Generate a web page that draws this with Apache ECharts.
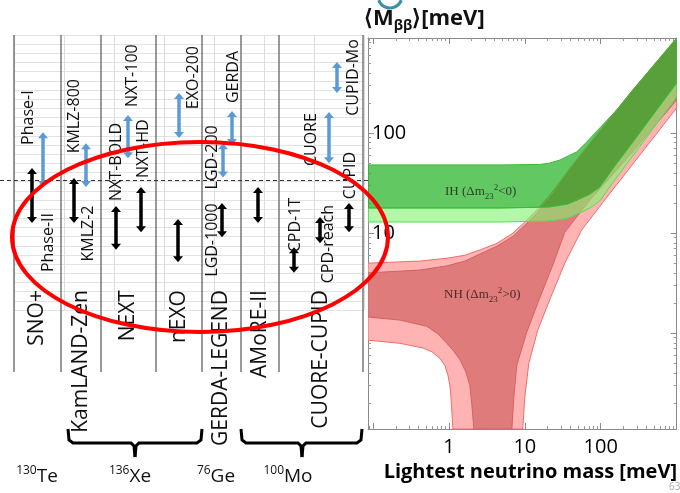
<!DOCTYPE html>
<html>
<head>
<meta charset="utf-8">
<script src="https://cdn.jsdelivr.net/npm/echarts@6/dist/echarts.min.js"></script>
<style>
  html, body { margin: 0; padding: 0; background: #fff; }
  #chart { width: 680px; height: 493px; }
</style>
</head>
<body>
<div id="chart"></div>
<script>
  // ---- left strip: experiments and their sensitivity ranges (meV) ----
  const groupNames = ["SNO+", "KamLAND-Zen", "NEXT", "nEXO", "GERDA-LEGEND", "AMoRE-II", "CUORE-CUPID"];
  const groupEdges = [14, 61, 101, 156, 202, 241, 279, 363]; // along the strip
  const isotopes = [["130", "Te"], ["136", "Xe"], ["76", "Ge"], ["100", "Mo"]];

  const barNames = ["Phase-II", "Phase-I", "KMLZ-2", "KMLZ-800", "NXT-BOLD", "NXT-100", "NXT-HD",
    "EXO-200", "nEXO", "LGD-200", "LGD-1000", "GERDA", "AMoRE-II", "CPD-1T", "CPD-reach",
    "CUORE", "CUPID-Mo", "CUPID"];
  const barPos = [32, 43, 74, 86, 116, 128, 141, 179, 178, 223, 222, 232, 258, 294, 320, 329, 337, 349];
  const barLow = [12.6, 28.8, 12.6, 28.8, 6.8, 56, 10.2, 89, 5.1, 36, 9.1, 76, 12.6, 4.0, 7.9, 50, 251, 10.2];
  const barHigh = [44.7, 102, 35.5, 79, 18.6, 151, 28.8, 251, 13.8, 79, 20, 166, 28.8, 7.2, 14.5, 162, 513, 20];
  const barStage = ["next", "now", "next", "now", "next", "now", "next", "now", "next", "now", "next",
    "now", "next", "next", "next", "now", "now", "next"];
  const refLine = 34;

  // ---- right plot: m_bb bands vs lightest neutrino mass (meV, meV) ----
  const ihTop = [[0.086, 48], [4.7, 48], [15.7, 48.5], [21, 50], [29, 53.7], [39, 60], [48, 64.6], [65, 81],
    [97, 112], [162, 170], [264, 269], [1000, 890]];
  const ihMid = [[0.086, 17.8], [4.7, 17.8], [21, 18.2], [37, 19.5], [56, 22.4], [72, 24.5], [97, 28.8],
    [153, 46.8], [264, 81], [1000, 316]];
  const ihLow = [[0.086, 12.9], [4.7, 12.9], [21, 13.2], [37, 14.1], [56, 16.2], [72, 17.8], [97, 20.9],
    [153, 33.9], [264, 59], [1000, 229]];

  const nhTop = [[0.086, 5.0], [0.415, 5.25], [0.94, 5.6], [1.62, 6.0], [2.6, 6.8], [4.3, 7.9], [7, 10],
    [10, 12.9], [14.4, 17], [24.8, 27.5], [39, 44], [97, 105], [264, 269], [1000, 891]];
  const nhTopIn = [[0.086, 4.0], [0.415, 4.27], [0.94, 4.7], [1.62, 5.25], [2.6, 6.2], [4.3, 7.4], [7, 9.3],
    [10, 12], [14.4, 15.8], [24.8, 25.7], [39, 41.7], [97, 100], [264, 257], [1000, 850]];
  const nhOuterRight = [[9.4, 0.11], [10, 0.229], [11.3, 0.5], [14.8, 1.07], [22, 2.29], [33.6, 5.0],
    [56, 10.7], [113, 21.4], [326, 60], [1000, 178]];
  const nhOuterLeft = [[0.086, 0.85], [0.227, 0.79], [0.455, 0.71], [0.6, 0.65], [0.76, 0.56], [0.89, 0.47],
    [0.97, 0.38], [1.03, 0.30], [1.06, 0.24], [1.13, 0.11]];
  const nhInnerRight = [[6.75, 0.11], [7.2, 0.24], [7.85, 0.48], [10.6, 1.02], [15.7, 2.24], [23.4, 4.8],
    [33.6, 10.2], [72, 21.4], [241, 60], [1000, 214]];
  const nhInnerLeft = [[0.086, 1.45], [0.227, 1.35], [0.51, 1.17], [0.72, 0.98], [0.94, 0.79], [1.16, 0.66],
    [1.4, 0.54], [1.67, 0.41], [1.89, 0.3], [2.01, 0.19], [2.13, 0.11]];

  const xTickLabels = [1, 10, 100];
  const yTickLabels = [10, 100];

  // ---- layout ----
  const FONT = "'Open Sans', 'Noto Sans', sans-serif";
  // label centre offset from bar centre, px
  const labelShift = [[16, 47], [-15, -42], [14, 33], [-12, -49], [0, -66], [4, -61], [2, -61],
    [14, -38], null, [-11, -3], [-10, 20], [1, -51], null, [1, -35], [8, 14], [-18, 2], [16, 0], [1, -42]];
  const groupLabelLevel = 0.243;

  const chart = echarts.init(document.getElementById("chart"));

  function band(pts, fill, stroke) {
    return {
      type: "custom",
      xAxisIndex: 3,
      yAxisIndex: 3,
      clip: true,
      silent: true,
      data: pts,
      renderItem: (params, api) => {
        if (params.dataIndex !== 0) return null;
        return {
          type: "polygon",
          shape: { points: pts.map((p) => api.coord(p)) },
          style: { fill: fill, stroke: stroke, lineWidth: 1 },
        };
      },
    };
  }

  const nhOuter = nhTop.concat(nhOuterRight.slice().reverse(), nhOuterLeft.slice().reverse());
  const nhInner = nhTopIn.concat(nhInnerRight.slice().reverse(), nhInnerLeft.slice().reverse());
  const ihDark = ihTop.concat(ihMid.slice().reverse());
  const ihLight = ihMid.concat(ihLow.slice().reverse());

  const logAxisBase = {
    type: "log",
    logBase: 10,
    axisLine: { lineStyle: { color: "#8a8a8a" } },
    axisTick: { inside: true, length: 6, lineStyle: { color: "#8a8a8a" } },
    minorTick: { show: true, splitNumber: 9, length: 3, lineStyle: { color: "#9a9a9a" } },
    splitLine: { show: false },
  };

  const option = {
    animation: false,
    grid: [
      { left: 14, top: 35, width: 350, height: 275 },
      { left: 0, top: 35, width: 370, height: 337 },
      { left: 0, top: 38, width: 370, height: 391 },
      { left: 368, top: 38, right: 3, bottom: 64 },
    ],
    xAxis: [
      {
        gridIndex: 0, type: "value", min: 0, max: 350, interval: 50,
        axisLine: { show: false }, axisTick: { show: false }, axisLabel: { show: false },
        splitLine: { lineStyle: { color: "#dcdcdc" } },
      },
      { gridIndex: 1, type: "value", min: 0, max: 370, show: false },
      { gridIndex: 2, type: "value", min: 0, max: 370, show: false },
      Object.assign({}, logAxisBase, {
        gridIndex: 3, min: 0.086, max: 1000, position: "bottom",
        axisLabel: {
          margin: 8, fontSize: 20, color: "#000", fontFamily: FONT,
          formatter: (v) => (xTickLabels.includes(Math.round(v * 1000) / 1000) ? String(Math.round(v)) : ""),
        },
        name: "Lightest neutrino mass [meV]",
        nameLocation: "middle",
        nameGap: 27,
        nameTextStyle: { fontSize: 20, fontWeight: "bold", color: "#000", fontFamily: FONT, padding: [0, 0, 0, 16] },
      }),
      Object.assign({}, logAxisBase, {
        gridIndex: 3, min: 0.086, max: 1000, position: "top", axisLabel: { show: false },
      }),
    ],
    yAxis: [
      {
        gridIndex: 0, type: "value", min: 0, max: 30, interval: 1,
        axisLine: { show: false }, axisTick: { show: false }, axisLabel: { show: false },
        splitLine: { lineStyle: { color: "#e3e3e3" } },
      },
      { gridIndex: 1, type: "value", min: 0, max: 1, show: false },
      { gridIndex: 2, type: "log", logBase: 10, min: 0.11, max: 891, show: false },
      Object.assign({}, logAxisBase, {
        gridIndex: 3, min: 0.11, max: 891, position: "left",
        axisLabel: {
          inside: true, margin: 4, fontSize: 20, color: "#000", fontFamily: FONT,
          formatter: (v) => (yTickLabels.includes(Math.round(v * 1000) / 1000) ? String(Math.round(v)) : ""),
        },
        name: "{a|⟨M}{s|ββ}{a|⟩[meV]}",
        nameLocation: "end",
        nameGap: 5,
        nameTextStyle: {
          align: "left",
          padding: [0, 0, 0, -4],
          rich: {
            a: { fontSize: 22, fontWeight: "bold", fontFamily: FONT, color: "#111", lineHeight: 28, verticalAlign: "middle" },
            s: { fontSize: 14, fontWeight: "bold", fontFamily: FONT, color: "#111", lineHeight: 14, verticalAlign: "bottom" },
          },
        },
      }),
      Object.assign({}, logAxisBase, {
        gridIndex: 3, min: 0.11, max: 891, position: "right", axisLabel: { show: false },
      }),
    ],
    series: [
      // background light grid for the strip
      { type: "line", xAxisIndex: 0, yAxisIndex: 0, data: [], silent: true },
      // column separators and experiment names
      {
        type: "custom",
        xAxisIndex: 1,
        yAxisIndex: 1,
        silent: true,
        data: groupNames.map((n, i) => [groupEdges[i], groupEdges[i + 1]]),
        renderItem: (params, api) => {
          const i = params.dataIndex;
          const a = api.value(0), b = api.value(1);
          const kids = [];
          const edges = i === groupNames.length - 1 ? [a, b] : [a];
          edges.forEach((e) => {
            const p0 = api.coord([e, 1]), p1 = api.coord([e, 0]);
            kids.push({ type: "line", shape: { x1: p0[0], y1: p0[1], x2: p1[0], y2: p1[1] }, style: { stroke: "#555", lineWidth: 1.2 } });
          });
          const c = api.coord([(a + b) / 2, groupLabelLevel]);
          kids.push({
            type: "text", x: c[0], y: c[1], rotation: Math.PI / 2,
            style: { text: groupNames[i], fontSize: 21, fontFamily: FONT, fill: "#111", align: "right", verticalAlign: "middle" },
          });
          return { type: "group", children: kids };
        },
      },
      // sensitivity ranges
      {
        type: "custom",
        xAxisIndex: 2,
        yAxisIndex: 2,
        silent: true,
        z: 5,
        data: barNames.map((n, i) => [barPos[i], barLow[i], barHigh[i]]),
        renderItem: (params, api) => {
          const i = params.dataIndex;
          const x = api.value(0);
          const top = api.coord([x, api.value(2)]);
          const bot = api.coord([x, api.value(1)]);
          const color = barStage[i] === "next" ? "#000" : "#5b9bd5";
          const w = 5, h = 6;
          const kids = [
            { type: "line", shape: { x1: top[0], y1: top[1] + h - 1, x2: bot[0], y2: bot[1] - h + 1 }, style: { stroke: color, lineWidth: 3.5 } },
            { type: "polygon", shape: { points: [[top[0], top[1]], [top[0] - w, top[1] + h], [top[0] + w, top[1] + h]] }, style: { fill: color } },
            { type: "polygon", shape: { points: [[bot[0], bot[1]], [bot[0] - w, bot[1] - h], [bot[0] + w, bot[1] - h]] }, style: { fill: color } },
          ];
          const s = labelShift[i];
          if (s) {
            kids.push({
              type: "text", x: top[0] + s[0], y: (top[1] + bot[1]) / 2 + s[1], rotation: Math.PI / 2,
              style: { text: barNames[i], fontSize: 16, fontFamily: FONT, fill: "#111", align: "center", verticalAlign: "middle" },
            });
          }
          return { type: "group", children: kids };
        },
        markLine: {
          silent: true,
          symbol: "none",
          label: { show: false },
          lineStyle: { type: [4, 3], color: "#333", width: 1 },
          data: [{ yAxis: refLine }],
        },
      },
      // bands
      band(nhOuter, "#ffb3b3", "#f26b6b"),
      band(nhInner, "#e07b7b", "#d46262"),
      band(ihLight, "rgba(128,242,110,0.6)", "#55dd55"),
      band(ihDark, "rgba(32,176,32,0.7)", "#3cb83c"),
    ],
    graphic: [
      {
        type: "text", left: 445, top: 183, z: 50,
        style: {
          text: "{a|IH (Δm}{s|23}{p|2}{a|<0)}",
          rich: {
            a: { fontSize: 13, fontFamily: "'Liberation Serif', serif", fill: "#2f3f2f", lineHeight: 18, verticalAlign: "middle" },
            s: { fontSize: 9, fontFamily: "'Liberation Serif', serif", fill: "#2f3f2f", lineHeight: 9, verticalAlign: "bottom" },
            p: { fontSize: 9, fontFamily: "'Liberation Serif', serif", fill: "#2f3f2f", lineHeight: 9, verticalAlign: "top" },
          },
        },
      },
      {
        type: "text", left: 444, top: 286, z: 50,
        style: {
          text: "{a|NH (Δm}{s|23}{p|2}{a|>0)}",
          rich: {
            a: { fontSize: 13, fontFamily: "'Liberation Serif', serif", fill: "#4a2a2a", lineHeight: 18, verticalAlign: "middle" },
            s: { fontSize: 9, fontFamily: "'Liberation Serif', serif", fill: "#4a2a2a", lineHeight: 9, verticalAlign: "bottom" },
            p: { fontSize: 9, fontFamily: "'Liberation Serif', serif", fill: "#4a2a2a", lineHeight: 9, verticalAlign: "top" },
          },
        },
      },
      // braces under the isotope groups
      { type: "polyline", z: 50, shape: { points: [[68, 429], [69, 440], [73, 443], [131, 443], [134, 446], [135, 457]] }, style: { stroke: "#000", lineWidth: 3, fill: null } },
      { type: "polyline", z: 50, shape: { points: [[202, 429], [201, 440], [197, 443], [139, 443], [136, 446], [135, 457]] }, style: { stroke: "#000", lineWidth: 3, fill: null } },
      { type: "polyline", z: 50, shape: { points: [[241, 429], [242, 440], [246, 443], [298, 443], [301, 446], [302, 457]] }, style: { stroke: "#000", lineWidth: 3, fill: null } },
      { type: "polyline", z: 50, shape: { points: [[362, 429], [361, 440], [357, 443], [306, 443], [303, 446], [302, 457]] }, style: { stroke: "#000", lineWidth: 3, fill: null } },
      ...isotopes.map((iso, i) => ({
        type: "text", z: 50,
        x: [37, 130, 216, 288][i], y: 477,
        style: {
          text: "{p|" + iso[0] + "}{a|" + iso[1] + "}",
          align: "center", verticalAlign: "middle",
          rich: {
            a: { fontSize: 19, fontFamily: FONT, fill: "#111", lineHeight: 24, verticalAlign: "middle" },
            p: { fontSize: 12, fontFamily: FONT, fill: "#111", lineHeight: 12, verticalAlign: "top" },
          },
        },
      })),
      // annotation ellipse
      { type: "ellipse", z: 100, shape: { cx: 200, cy: 237, rx: 188, ry: 95 }, style: { fill: null, stroke: "#ff0000", lineWidth: 4 } },
      { type: "arc", z: 100, shape: { cx: 390, cy: -4, r: 12, startAngle: 0.35, endAngle: Math.PI - 0.35 }, style: { stroke: "#3a8ea8", lineWidth: 3, fill: null } },
      { type: "text", z: 50, x: 669, y: 482, style: { text: "63", fontSize: 10, fontFamily: FONT, fill: "#aaa" } },
    ],
  };

  chart.setOption(option);
</script>
</body>
</html>
